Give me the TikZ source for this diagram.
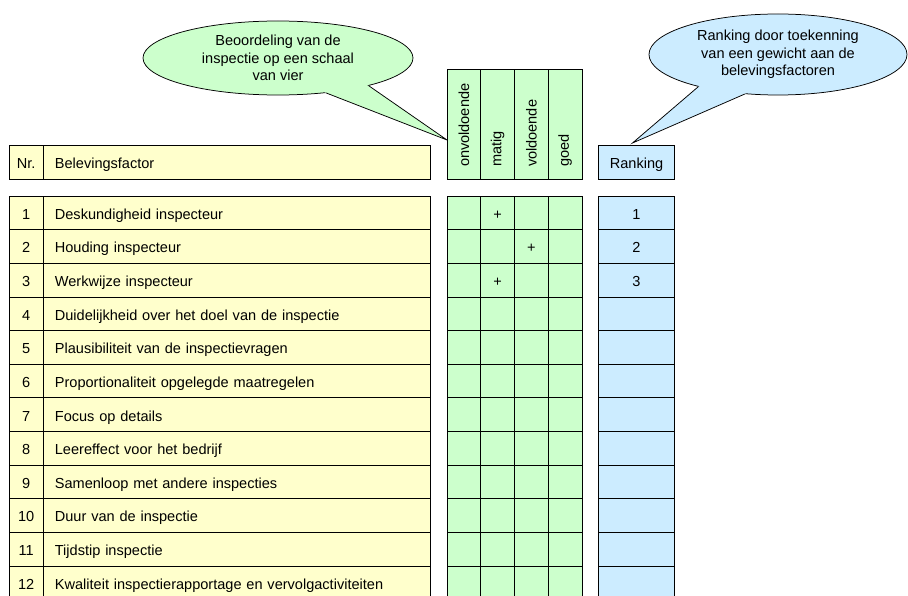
\documentclass[tikz,border=0pt]{standalone}
\usepackage{fontspec}
\setmainfont{Liberation Sans}
\usepackage{tikz}
\usepackage{xcolor}
\usetikzlibrary{shapes.geometric, calc}

\definecolor{factorfill}{HTML}{FFFFCC}
\definecolor{gradefill}{HTML}{CCFFCC}
\definecolor{rankfill}{HTML}{CCECFF}

\tikzset{
  cell/.style={draw=black, line width=0.75bp, inner sep=0pt, outer sep=0pt,
    minimum height=33.63bp, font=\fontsize{14.6}{17}\selectfont},
  rowcell/.style={cell, text height=14bp, text depth=1bp},
  nrcell/.style={rowcell, fill=factorfill, minimum width=34.3bp},
  factorcell/.style={rowcell, fill=factorfill, text width=364bp, inner xsep=11.6bp, align=left},
  gradecell/.style={rowcell, fill=gradefill, minimum width=33.75bp},
  gradehead/.style={cell, fill=gradefill, rotate=90, text width=86bp, inner xsep=12bp,
    minimum height=33.75bp, align=left},
  rankcell/.style={rowcell, fill=rankfill, minimum width=75.6bp},
  callout/.style={ellipse, draw=black, line width=0.75bp, inner sep=0pt, align=center,
    font=\fontsize{14.6}{17.5}\selectfont},
}

\begin{document}
\begin{tikzpicture}[x=1bp, y=-1bp]
    \useasboundingbox (0,0) rectangle (908,596);

    % callouts
    \node[callout, fill=gradefill, minimum width=270bp, minimum height=74bp] (callgrade) at (278,58)
        {Beoordeling van de\\inspectie op een schaal\\van vier};
    \node[callout, fill=rankfill, minimum width=258bp, minimum height=81bp] (callrank) at (778,54.5)
        {Ranking door toekenning\\van een gewicht aan de\\belevingsfactoren};
    \coordinate (tipgrade) at (447,140);
    \coordinate (tiprank) at (632.5,143);

    \fill[gradefill] (callgrade.-36) -- (tipgrade) -- (callgrade.-17)
        -- ($(callgrade.-17)!0.1!(callgrade.center)$) -- ($(callgrade.-36)!0.1!(callgrade.center)$) -- cycle;
    \draw[line width=0.75bp] (callgrade.-36) -- (tipgrade) -- (callgrade.-17);
    \fill[rankfill] (callrank.-158) -- (tiprank) -- (callrank.-130)
        -- ($(callrank.-130)!0.1!(callrank.center)$) -- ($(callrank.-158)!0.1!(callrank.center)$) -- cycle;
    \draw[line width=0.75bp] (callrank.-158) -- (tiprank) -- (callrank.-130);

    % header row
    \node[nrcell] (nrhead) at (26.15,162.5) {Nr.};
    \node[factorcell] (factorhead) at (236.9,162.5) {Belevingsfactor};
    \node[gradehead] (onvoldoende) at (463.875,124) {onvoldoende};
    \node[gradehead] (matig) at (497.625,124) {matig};
    \node[gradehead] (voldoende) at (531.375,124) {voldoende};
    \node[gradehead] (goed) at (565.125,124) {goed};
    \node[rankcell] (rankhead) at (636.5,162.5) {Ranking};

    % rows: number / factor / column with + / rank (0 = empty)
    \foreach \i/\factortext/\gradecol/\ranknr in {
        1/Deskundigheid inspecteur/2/1,
        2/Houding inspecteur/3/2,
        3/Werkwijze inspecteur/2/3,
        4/Duidelijkheid over het doel van de inspectie/0/0,
        5/Plausibiliteit van de inspectievragen/0/0,
        6/Proportionaliteit opgelegde maatregelen/0/0,
        7/Focus op details/0/0,
        8/Leereffect voor het bedrijf/0/0,
        9/Samenloop met andere inspecties/0/0,
        10/Duur van de inspectie/0/0,
        11/Tijdstip inspectie/0/0,
        12/Kwaliteit inspectierapportage en vervolgactiviteiten/0/0} {
        \node[nrcell] (nr\i) at (26.15,179.19+33.63*\i) {\i};
        \node[factorcell] (factor\i) at (236.9,179.19+33.63*\i) {\factortext};
        \foreach \c in {1,...,4}
            \node[gradecell] (grade\i-\c) at (430.125+33.75*\c,179.19+33.63*\i) {\ifnum\c=\gradecol +\fi};
        \node[rankcell] (rank\i) at (636.5,179.19+33.63*\i) {\ifnum\ranknr>0 \ranknr\fi};
    }
\end{tikzpicture}
\end{document}
